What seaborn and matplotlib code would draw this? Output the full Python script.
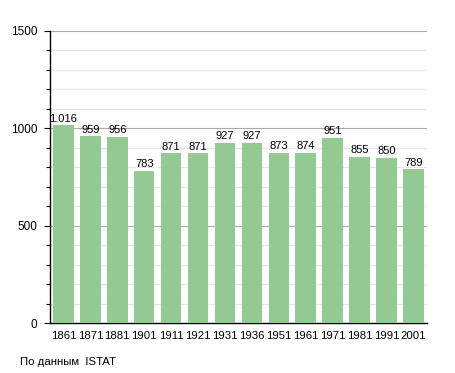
import matplotlib
matplotlib.use("Agg")
import matplotlib.pyplot as plt
import seaborn as sns
import pandas as pd
from matplotlib.ticker import MultipleLocator

# --- data ---
years = ["1861", "1871", "1881", "1901", "1911", "1921", "1931", "1936",
         "1951", "1961", "1971", "1981", "1991", "2001"]
population = [1016, 959, 956, 783, 871, 871, 927, 927, 873, 874, 951, 855, 850, 789]
value_labels = ["1.016", "959", "956", "783", "871", "871", "927", "927",
                "873", "874", "951", "855", "850", "789"]
source_text = "По данным  ISTAT"

df = pd.DataFrame({"year": years, "pop": population})

sns.set_style("white")
plt.rcParams["font.family"] = ["Liberation Sans", "DejaVu Sans"]
plt.rcParams["text.color"] = "black"
plt.rcParams["xtick.color"] = "black"
plt.rcParams["ytick.color"] = "black"

fig = plt.figure(figsize=(4.55, 3.73), dpi=100)
ax = fig.add_axes([0.110, 0.134, 0.828, 0.783])

sns.barplot(data=df, x="year", y="pop", color="#93c993", saturation=1,
            width=0.76, linewidth=0, ax=ax, zorder=3)

ax.set_ylim(0, 1500)
ax.set_xlim(-0.5, len(years) - 0.5)
ax.yaxis.set_major_locator(MultipleLocator(500))
ax.yaxis.set_minor_locator(MultipleLocator(100))
ax.grid(which="minor", axis="y", color="#e6e6e6", linewidth=0.8, zorder=0)
ax.grid(which="major", axis="y", color="#aaaaaa", linewidth=0.8, zorder=1)
ax.set_axisbelow(True)

for s in ["top", "right"]:
    ax.spines[s].set_visible(False)
for s in ["left", "bottom"]:
    ax.spines[s].set_color("black")
    ax.spines[s].set_linewidth(1.0)

ax.tick_params(axis="y", which="major", left=True, length=4, width=0.8,
               labelsize=8.5, pad=5)
ax.tick_params(axis="y", which="minor", left=True, length=3, width=0.8)
ax.tick_params(axis="x", bottom=False, labelsize=8.2, pad=2)
ax.set_xlabel("")
ax.set_ylabel("")

for i, (v, lab) in enumerate(zip(population, value_labels)):
    ax.text(i, v + 8, lab, ha="center", va="bottom", fontsize=8, zorder=4)

fig.text(20 / 455, 1 - 362 / 373, source_text, fontsize=8.2, va="center", ha="left")

fig.savefig("out.png", dpi=100)
